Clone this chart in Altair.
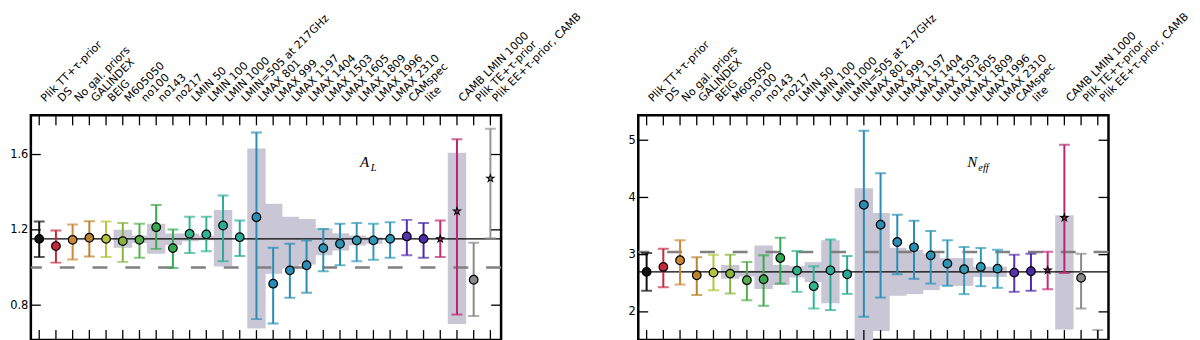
import json
import altair as alt
import pandas as pd

labels = ["Plik TT+τ-prior", "DS", "No gal. priors", "GALINDEX", "BEIG", "M605050",
          "no100", "no143", "no217", "LMIN 50", "LMIN 100", "LMIN 1000",
          "LMIN=505 at 217GHz", "LMAX 801", "LMAX 999", "LMAX 1197", "LMAX 1404",
          "LMAX 1503", "LMAX 1605", "LMAX 1809", "LMAX 1996", "LMAX 2310",
          "CAMspec", "lite", "", "CAMB LMIN 1000", "Plik TE+τ-prior",
          "Plik EE+τ-prior, CAMB"]

colors = ["#111111", "#c42a3a", "#cc8836", "#b8822e", "#b4c43c", "#86b43c",
          "#52b04a", "#3aa84c", "#35a854", "#32b48a", "#2fb494", "#2bab94",
          "#2aa898", "#2a8db5", "#2a8db5", "#2a8db5", "#2a8db5", "#2c94b6",
          "#2c94b6", "#2f9ab8", "#2f9ab8", "#2f9ab8", "#5a2fb0", "#4a2aa8",
          "#c42a78", "#b8286e", "#8a8a8a", "#959595"]

markers = ["circle"] * 24 + ["star", "star", "circle", "star"]

# A_L panel
al_val = [1.152, 1.114, 1.147, 1.158, 1.152, 1.140, 1.147, 1.214, 1.103, 1.179,
          1.176, 1.223, 1.161, 1.267, 0.914, 0.985, 1.012, 1.103, 1.126, 1.144,
          1.144, 1.152, 1.165, 1.152, 1.152, 1.299, 0.935, 1.473]
al_lo = [1.056, 1.026, 1.043, 1.059, 1.056, 1.030, 1.052, 1.099, 0.998, 1.077,
         1.087, 1.033, 1.061, 0.726, 0.703, 0.840, 0.866, 0.980, 1.012, 1.033,
         1.041, 1.052, 1.065, 1.052, 1.056, 0.751, 0.743, 1.156]
al_hi = [1.244, 1.197, 1.228, 1.246, 1.244, 1.236, 1.232, 1.332, 1.202, 1.269,
         1.269, 1.382, 1.250, 1.717, 1.105, 1.126, 1.144, 1.205, 1.232, 1.236,
         1.232, 1.241, 1.253, 1.236, 1.250, 1.681, 1.131, 1.737]
al_box_lo = [None, None, None, None, None, 1.105, 1.13, 1.073, 1.12, 1.14,
             1.145, 1.005, None, 0.676, 0.967, 0.995, 1.016, 1.065, 1.091, 1.117,
             1.126, None, None, None, None, 0.70, None, None]
al_box_hi = [None, None, None, None, None, 1.20, 1.17, 1.232, 1.18, 1.18,
             1.17, 1.305, None, 1.632, 1.338, 1.27, 1.258, 1.209, 1.182, 1.170,
             1.161, None, None, None, None, 1.61, None, None]
al_ref = [1.152]
al_dash = [1.0]
al_domain = [0.615, 1.808]
al_ticks = [0.8, 1.2, 1.6]

# N_eff panel
ne_val = [2.699, 2.786, 2.902, 2.64, 2.686, 2.669, 2.553, 2.57, 2.942, 2.721,
          2.449, 2.727, 2.657, 3.871, 3.523, 3.221, 3.129, 2.988, 2.843, 2.745,
          2.786, 2.756, 2.686, 2.71, 2.727, 3.645, 2.594, 1.3]
ne_lo = [2.368, 2.432, 2.477, 2.293, 2.38, 2.32, 2.205, 2.106, 2.495, 2.35,
         2.059, 2.031, 2.315, 1.915, 2.25, 2.657, 2.577, 2.495, 2.455, 2.31,
         2.449, 2.42, 2.35, 2.368, 2.397, 2.681, 2.059, 0.9]
ne_hi = [3.03, 3.105, 3.25, 2.955, 3.0, 3.0, 2.873, 2.988, 3.296, 3.064,
         2.797, 3.267, 2.977, 5.167, 4.423, 3.697, 3.592, 3.413, 3.251, 3.134,
         3.117, 3.087, 3.0, 3.017, 3.052, 4.923, 3.017, 1.683]
ne_box_lo = [None, None, None, None, None, 2.58, 2.62, 2.40, 2.47, 2.60,
             2.52, 2.15, None, 1.40, 1.665, 2.28, 2.31, 2.38, 2.455, 2.455,
             2.61, 2.61, None, None, None, 1.69, None, None]
ne_box_hi = [None, None, None, None, None, 2.82, 2.72, 3.16, 2.82, 2.80,
             2.87, 3.25, None, 4.16, 3.73, 3.12, 3.08, 3.02, 2.94, 2.94,
             2.79, 2.79, None, None, None, 3.69, None, None]
ne_ref = [2.70]
ne_dash = [3.046]
ne_domain = [1.508, 5.435]
ne_ticks = [2, 3, 4, 5]

STAR = ("M0,-1L0.2245,-0.309L0.951,-0.309L0.363,0.118L0.588,0.809L0,0.382"
        "L-0.588,0.809L-0.363,0.118L-0.951,-0.309L-0.2245,-0.309Z")

W, H = 473, 226
label_expr = json.dumps(labels, ensure_ascii=False) + "[datum.value]"


def panel(val, lo, hi, blo, bhi, ref, dash, domain, ticks, main, sub):
    n = len(labels)
    df = pd.DataFrame({"i": list(range(n)), "val": val, "lo": lo, "hi": hi,
                       "blo": blo, "bhi": bhi, "color": colors, "marker": markers})
    xscale = alt.Scale(domain=[-0.5, 27.64], nice=False, zero=False)
    yscale = alt.Scale(domain=domain, nice=False, zero=False)
    xaxis = alt.Axis(orient="top", values=list(range(n)), labelExpr=label_expr,
                     labelAngle=-45, labelAlign="left", labelBaseline="bottom",
                     ticks=False, domain=False, grid=False, title=None,
                     labelFont="DejaVu Sans", labelFontSize=11, labelColor="black",
                     labelPadding=12, labelOffset=7, labelOverlap=False,
                     labelFlush=False, labelBound=False)
    yaxis = alt.Axis(values=ticks, ticks=False, domain=False, grid=False, title=None,
                     labelFont="DejaVu Sans", labelFontSize=11.5, labelColor="black",
                     labelPadding=3, labelFlush=False)

    def X(f):
        return alt.X(f, type="quantitative", scale=xscale, axis=xaxis)

    def Y(f):
        return alt.Y(f, type="quantitative", scale=yscale, axis=yaxis)

    base = alt.Chart(df)
    boxes = base.transform_filter("isValid(datum.blo)").transform_calculate(
        x0="datum.i - 0.55", x1="datum.i + 0.55").mark_rect(
        color="#c9c7d5", clip=True).encode(x=X("x0"), x2="x1", y=Y("blo"), y2="bhi")
    dashed = alt.Chart(pd.DataFrame({"d": dash})).mark_rule(
        color="#808080", strokeWidth=2.5, strokeDash=[15, 18]).encode(y=Y("d"))
    solid = alt.Chart(pd.DataFrame({"r": ref})).mark_rule(
        color="black", strokeWidth=1.3).encode(y=Y("r"))
    bars = base.mark_rule(strokeWidth=2, clip=True).encode(
        x=X("i"), y=Y("lo"), y2="hi", color=alt.Color("color:N", scale=None))
    cap_lo = base.mark_tick(orient="horizontal", size=11, thickness=2, clip=True).encode(
        x=X("i"), y=Y("lo"), color=alt.Color("color:N", scale=None))
    cap_hi = base.mark_tick(orient="horizontal", size=11, thickness=2, clip=True).encode(
        x=X("i"), y=Y("hi"), color=alt.Color("color:N", scale=None))
    circles = base.transform_filter("datum.marker == 'circle'").mark_point(
        shape="circle", filled=True, size=75, stroke="black", strokeWidth=1.2,
        opacity=1, clip=True).encode(
        x=X("i"), y=Y("val"), fill=alt.Fill("color:N", scale=None))
    stars = base.transform_filter("datum.marker == 'star'").mark_point(
        shape=STAR, filled=True, size=55, stroke="black", strokeWidth=1.1,
        opacity=1, clip=True).encode(
        x=X("i"), y=Y("val"), fill=alt.Fill("color:N", scale=None))
    top_ticks = base.mark_rule(color="black", strokeWidth=1.3).encode(
        x=X("i"), y=alt.value(0), y2=alt.value(10))
    bot_ticks = base.mark_rule(color="black", strokeWidth=1.3).encode(
        x=X("i"), y=alt.value(H), y2=alt.value(H - 10))
    tdf = alt.Chart(pd.DataFrame({"t": ticks}))
    left_ticks = tdf.mark_rule(color="black", strokeWidth=1.3).encode(
        y=Y("t"), x=alt.value(0), x2=alt.value(10))
    right_ticks = tdf.mark_rule(color="black", strokeWidth=1.3).encode(
        y=Y("t"), x=alt.value(W - 10), x2=alt.value(W))
    t_main = alt.Chart(pd.DataFrame({"s": [main]})).mark_text(
        font="Liberation Serif", fontStyle="italic", fontSize=15, align="left",
        baseline="alphabetic", color="black").encode(
        text="s:N", x=alt.value(331), y=alt.value(52))
    t_sub = alt.Chart(pd.DataFrame({"s": [sub]})).mark_text(
        font="Liberation Serif", fontStyle="italic", fontSize=10.5, align="left",
        baseline="alphabetic", color="black").encode(
        text="s:N", x=alt.value(342), y=alt.value(56))
    return alt.layer(boxes, dashed, solid, bars, cap_lo, cap_hi, circles, stars,
                     top_ticks, bot_ticks, left_ticks, right_ticks, t_main, t_sub
                     ).properties(width=W, height=H)


left = panel(al_val, al_lo, al_hi, al_box_lo, al_box_hi, al_ref, al_dash,
             al_domain, al_ticks, "A", "L")
right = panel(ne_val, ne_lo, ne_hi, ne_box_lo, ne_box_hi, ne_ref, ne_dash,
              ne_domain, ne_ticks, "N", "eff")

chart = alt.hconcat(left, right, spacing=138, bounds="flush").properties(
    padding={"left": 0, "top": 0, "right": 0, "bottom": 0}
).configure_view(stroke="black", strokeWidth=2.5)

chart.save("out.html", embed_options={"renderer": "svg", "actions": False})
